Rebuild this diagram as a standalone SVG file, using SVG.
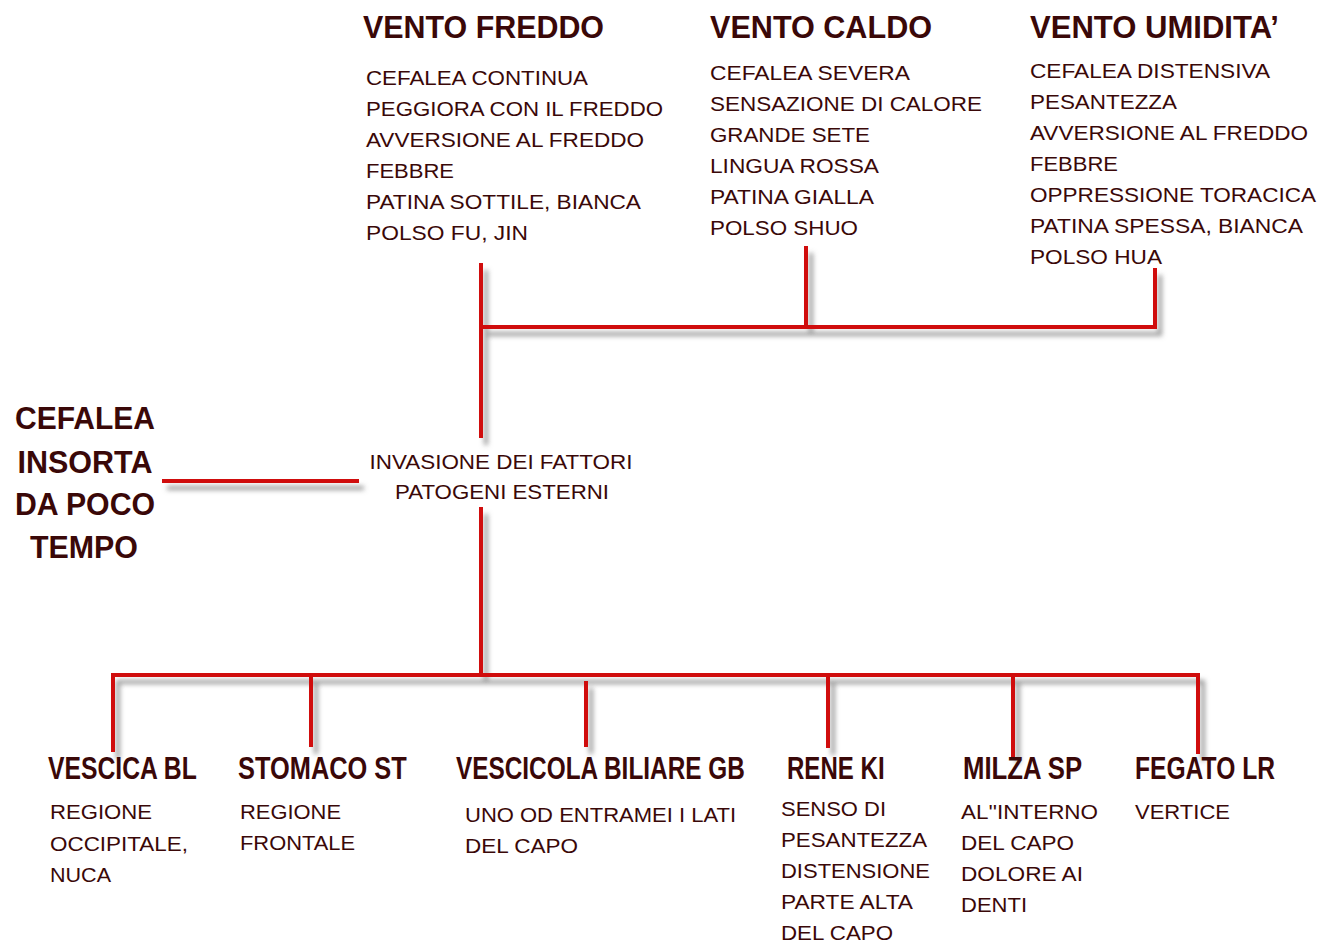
<svg xmlns="http://www.w3.org/2000/svg" width="1319" height="943" viewBox="0 0 1319 943">
<style>
.h{font-family:"Liberation Sans",Arial,sans-serif;font-weight:bold;font-size:32px;fill:#3a0808}
.b{font-family:"Liberation Sans",Arial,sans-serif;font-size:20px;fill:#3a0808}
.ln{fill:none;stroke:#d00a0a;stroke-width:4;stroke-linecap:square}
</style>
<defs>
<filter id="sh" x="-20%" y="-20%" width="140%" height="140%">
<feDropShadow dx="5" dy="7" stdDeviation="2.5" flood-color="#707070" flood-opacity="0.7"/>
</filter>
</defs>
<rect width="1319" height="943" fill="#ffffff"/>
<g id="connectors" filter="url(#sh)">
<path class="ln" d="M481 265 V436 M481 327 H1155 M806 248 V327 M1155 270 V327"/>
<path class="ln" d="M164 481 H357"/>
<path class="ln" d="M481 509 V675 M113 675 H1198 M113 675 V750 M311 675 V745 M586 683 V745 M828 675 V746 M1013 675 V755 M1198 675 V752"/>
</g>
<g id="vento-freddo">
<text class="h" x="363" y="38" textLength="241" lengthAdjust="spacingAndGlyphs">VENTO FREDDO</text>
<text class="b" x="366" y="85" textLength="222" lengthAdjust="spacingAndGlyphs">CEFALEA CONTINUA</text>
<text class="b" x="366" y="116" textLength="297" lengthAdjust="spacingAndGlyphs">PEGGIORA CON IL FREDDO</text>
<text class="b" x="366" y="147" textLength="278" lengthAdjust="spacingAndGlyphs">AVVERSIONE AL FREDDO</text>
<text class="b" x="366" y="178" textLength="88" lengthAdjust="spacingAndGlyphs">FEBBRE</text>
<text class="b" x="366" y="209" textLength="275" lengthAdjust="spacingAndGlyphs">PATINA SOTTILE, BIANCA</text>
<text class="b" x="366" y="240" textLength="162" lengthAdjust="spacingAndGlyphs">POLSO FU, JIN</text>
</g>
<g id="vento-caldo">
<text class="h" x="710" y="38" textLength="222" lengthAdjust="spacingAndGlyphs">VENTO CALDO</text>
<text class="b" x="710" y="80" textLength="200" lengthAdjust="spacingAndGlyphs">CEFALEA SEVERA</text>
<text class="b" x="710" y="111" textLength="272" lengthAdjust="spacingAndGlyphs">SENSAZIONE DI CALORE</text>
<text class="b" x="710" y="142" textLength="160" lengthAdjust="spacingAndGlyphs">GRANDE SETE</text>
<text class="b" x="710" y="173" textLength="169" lengthAdjust="spacingAndGlyphs">LINGUA ROSSA</text>
<text class="b" x="710" y="204" textLength="164" lengthAdjust="spacingAndGlyphs">PATINA GIALLA</text>
<text class="b" x="710" y="235" textLength="148" lengthAdjust="spacingAndGlyphs">POLSO SHUO</text>
</g>
<g id="vento-umidita">
<text class="h" x="1030" y="38" textLength="249" lengthAdjust="spacingAndGlyphs">VENTO UMIDITA’</text>
<text class="b" x="1030" y="78" textLength="240" lengthAdjust="spacingAndGlyphs">CEFALEA DISTENSIVA</text>
<text class="b" x="1030" y="109" textLength="147" lengthAdjust="spacingAndGlyphs">PESANTEZZA</text>
<text class="b" x="1030" y="140" textLength="278" lengthAdjust="spacingAndGlyphs">AVVERSIONE AL FREDDO</text>
<text class="b" x="1030" y="171" textLength="88" lengthAdjust="spacingAndGlyphs">FEBBRE</text>
<text class="b" x="1030" y="202" textLength="286" lengthAdjust="spacingAndGlyphs">OPPRESSIONE TORACICA</text>
<text class="b" x="1030" y="233" textLength="273" lengthAdjust="spacingAndGlyphs">PATINA SPESSA, BIANCA</text>
<text class="b" x="1030" y="264" textLength="132" lengthAdjust="spacingAndGlyphs">POLSO HUA</text>
</g>
<g id="cefalea">
<text class="h" x="85" y="429" text-anchor="middle" textLength="140" lengthAdjust="spacingAndGlyphs">CEFALEA</text>
<text class="h" x="85" y="473" text-anchor="middle" textLength="135" lengthAdjust="spacingAndGlyphs">INSORTA</text>
<text class="h" x="85" y="515" text-anchor="middle" textLength="140" lengthAdjust="spacingAndGlyphs">DA POCO</text>
<text class="h" x="84" y="558" text-anchor="middle" textLength="108" lengthAdjust="spacingAndGlyphs">TEMPO</text>
</g>
<g id="invasione">
<text class="b" x="501" y="469" text-anchor="middle" textLength="263" lengthAdjust="spacingAndGlyphs">INVASIONE DEI FATTORI</text>
<text class="b" x="502" y="499" text-anchor="middle" textLength="214" lengthAdjust="spacingAndGlyphs">PATOGENI ESTERNI</text>
</g>
<g id="vescica">
<text class="h" transform="translate(48 779) scale(0.8 1)" textLength="186" lengthAdjust="spacingAndGlyphs">VESCICA BL</text>
<text class="b" x="50" y="819" textLength="102" lengthAdjust="spacingAndGlyphs">REGIONE</text>
<text class="b" x="50" y="851" textLength="138" lengthAdjust="spacingAndGlyphs">OCCIPITALE,</text>
<text class="b" x="50" y="882" textLength="61" lengthAdjust="spacingAndGlyphs">NUCA</text>
</g>
<g id="stomaco">
<text class="h" transform="translate(238 779) scale(0.8 1)" textLength="211" lengthAdjust="spacingAndGlyphs">STOMACO ST</text>
<text class="b" x="240" y="819" textLength="101" lengthAdjust="spacingAndGlyphs">REGIONE</text>
<text class="b" x="240" y="850" textLength="115" lengthAdjust="spacingAndGlyphs">FRONTALE</text>
</g>
<g id="vescicola">
<text class="h" transform="translate(456 779) scale(0.8 1)" textLength="361" lengthAdjust="spacingAndGlyphs">VESCICOLA BILIARE GB</text>
<text class="b" x="465" y="822" textLength="271" lengthAdjust="spacingAndGlyphs">UNO OD ENTRAMEI I LATI</text>
<text class="b" x="465" y="853" textLength="113" lengthAdjust="spacingAndGlyphs">DEL CAPO</text>
</g>
<g id="rene">
<text class="h" transform="translate(787 779) scale(0.8 1)" textLength="122" lengthAdjust="spacingAndGlyphs">RENE KI</text>
<text class="b" x="781" y="816" textLength="105" lengthAdjust="spacingAndGlyphs">SENSO DI</text>
<text class="b" x="781" y="847" textLength="146" lengthAdjust="spacingAndGlyphs">PESANTEZZA</text>
<text class="b" x="781" y="878" textLength="149" lengthAdjust="spacingAndGlyphs">DISTENSIONE</text>
<text class="b" x="781" y="909" textLength="132" lengthAdjust="spacingAndGlyphs">PARTE ALTA</text>
<text class="b" x="781" y="940" textLength="112" lengthAdjust="spacingAndGlyphs">DEL CAPO</text>
</g>
<g id="milza">
<text class="h" transform="translate(963 779) scale(0.8 1)" textLength="149" lengthAdjust="spacingAndGlyphs">MILZA SP</text>
<text class="b" x="961" y="819" textLength="137" lengthAdjust="spacingAndGlyphs">AL''INTERNO</text>
<text class="b" x="961" y="850" textLength="113" lengthAdjust="spacingAndGlyphs">DEL CAPO</text>
<text class="b" x="961" y="881" textLength="122" lengthAdjust="spacingAndGlyphs">DOLORE AI</text>
<text class="b" x="961" y="912" textLength="66" lengthAdjust="spacingAndGlyphs">DENTI</text>
</g>
<g id="fegato">
<text class="h" transform="translate(1135 779) scale(0.8 1)" textLength="175" lengthAdjust="spacingAndGlyphs">FEGATO LR</text>
<text class="b" x="1135" y="819" textLength="95" lengthAdjust="spacingAndGlyphs">VERTICE</text>
</g>
</svg>
